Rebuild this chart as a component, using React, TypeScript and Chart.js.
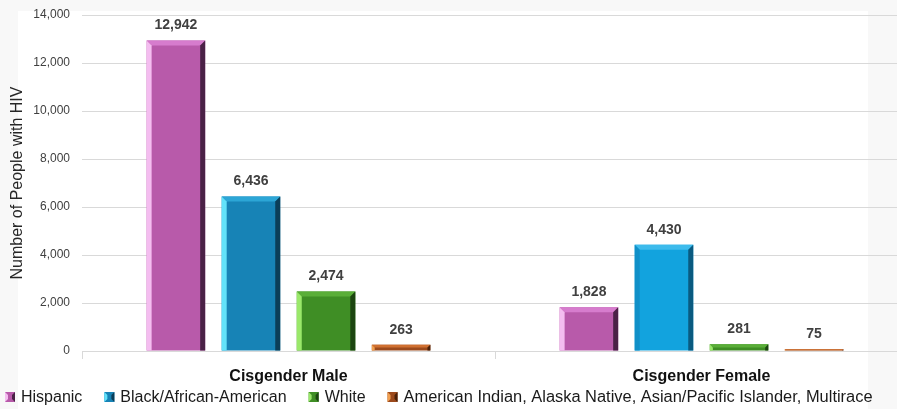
import React, { useEffect, useRef } from "react";
import { Chart, registerables } from "chart.js";

Chart.register(...registerables);

const categories = ["Cisgender Male", "Cisgender Female"];
const seriesNames = [
  "Hispanic",
  "Black/African-American",
  "White",
  "American Indian, Alaska Native, Asian/Pacific Islander, Multirace",
];
const hispanic = [12942, 1828];
const black = [6436, 4430];
const white = [2474, 281];
const aianMulti = [263, 75];
const yTicks = [0, 2000, 4000, 6000, 8000, 10000, 12000, 14000];
const yTitle = "Number of People with HIV";

// style: [main, leftLight, top, rightDark] per series (per category where it differs)
const styles = [
  [["#B85AAA", "#F4BDF0", "#D67CCD", "#4A2146"], ["#B85AAA", "#F4BDF0", "#D67CCD", "#4A2146"]],
  [["#1783B6", "#62E2FA", "#2CA6D6", "#0B3E58"], ["#12A3DE", "#1090C8", "#3DBBEC", "#0A5A80"]],
  [["#3F8E25", "#9AE86A", "#5AAE38", "#1C4510"], ["#3F8E25", "#9AE86A", "#5AAE38", "#1C4510"]],
  [["#9C4A1C", "#F2A050", "#D07030", "#4A2008"], ["#A04A18", "#F2A050", "#D07030", "#4A2008"]],
];

const seriesData = [hispanic, black, white, aianMulti];

const bevelPlugin = {
  id: "bevel",
  afterDatasetsDraw(chart: any) {
    const ctx = chart.ctx;
    ctx.save();
    chart.data.datasets.forEach((ds: any, di: number) => {
      const meta = chart.getDatasetMeta(di);
      meta.data.forEach((bar: any, i: number) => {
        const { x, y, base, width } = bar.getProps(["x", "y", "base", "width"], true);
        const L = x - width / 2;
        const R = x + width / 2;
        const T = Math.min(y, base);
        const B = Math.max(y, base);
        const h = B - T;
        const s = Math.max(1, Math.min(5, h / 2, width / 4));
        const st = styles[di][i];
        ctx.fillStyle = st[2];
        ctx.beginPath();
        ctx.moveTo(L, T);
        ctx.lineTo(R, T);
        ctx.lineTo(R - s, T + s);
        ctx.lineTo(L + s, T + s);
        ctx.closePath();
        ctx.fill();
        ctx.fillStyle = st[1];
        ctx.beginPath();
        ctx.moveTo(L, T);
        ctx.lineTo(L + s, T + s);
        ctx.lineTo(L + s, B);
        ctx.lineTo(L, B);
        ctx.closePath();
        ctx.fill();
        ctx.fillStyle = st[3];
        ctx.beginPath();
        ctx.moveTo(R, T);
        ctx.lineTo(R, B);
        ctx.lineTo(R - s, B);
        ctx.lineTo(R - s, T + s);
        ctx.closePath();
        ctx.fill();
      });
    });
    ctx.font = "bold 14px 'Liberation Sans', Arial, sans-serif";
    ctx.fillStyle = "#404040";
    ctx.textAlign = "center";
    ctx.textBaseline = "middle";
    chart.data.datasets.forEach((ds: any, di: number) => {
      const meta = chart.getDatasetMeta(di);
      meta.data.forEach((bar: any, i: number) => {
        const v = ds.data[i];
        ctx.fillText(Number(v).toLocaleString("en-US"), bar.x, bar.y - 15);
      });
    });
    ctx.restore();
  },
};

const bgPlugin = {
  id: "bgPanel",
  beforeDraw(chart: any) {
    const ctx = chart.ctx;
    ctx.save();
    ctx.fillStyle = "#f8f8f8";
    ctx.fillRect(0, 0, chart.width, chart.height);
    ctx.fillStyle = "#ffffff";
    ctx.fillRect(18, 11, 850, chart.height - 11);
    ctx.restore();
  },
};

const legendPlugin = {
  id: "customLegend",
  afterDraw(chart: any) {
    const ctx = chart.ctx;
    ctx.save();
    ctx.font = "16px 'Liberation Sans', Arial, sans-serif";
    ctx.textBaseline = "middle";
    ctx.textAlign = "left";
    const cy = 397;
    let x = 5;
    chart.data.datasets.forEach((ds: any, di: number) => {
      const st = styles[di][0];
      const b = 10;
      const top = cy - b / 2;
      ctx.fillStyle = st[0];
      ctx.fillRect(x, top, b, b);
      ctx.fillStyle = st[1];
      ctx.beginPath();
      ctx.moveTo(x, top);
      ctx.lineTo(x + 3, top + 3);
      ctx.lineTo(x + 3, top + b - 3);
      ctx.lineTo(x, top + b);
      ctx.closePath();
      ctx.fill();
      ctx.fillStyle = st[3];
      ctx.beginPath();
      ctx.moveTo(x + b, top);
      ctx.lineTo(x + b - 3, top + 3);
      ctx.lineTo(x + b - 3, top + b - 3);
      ctx.lineTo(x + b, top + b);
      ctx.closePath();
      ctx.fill();
      ctx.fillStyle = "#1a1a1a";
      const tw = ctx.measureText(ds.label).width;
      ctx.save();
      const sx = di === 3 ? 469 / tw : 1;
      ctx.translate(x + b + 6, cy + 1);
      ctx.scale(sx, 1);
      ctx.fillText(ds.label, 0, 0);
      ctx.restore();
      x += b + 6 + tw * sx + 22;
    });
    ctx.restore();
  },
};

export default function App() {
  const ref = useRef<HTMLCanvasElement>(null);
  useEffect(() => {
    if (!ref.current) return;
    const chart = new Chart(ref.current, {
      type: "bar",
      data: {
        labels: categories,
        datasets: seriesData.map((d, di) => ({
          label: seriesNames[di],
          data: d,
          backgroundColor: styles[di].map((s) => s[0]),
          borderWidth: 0,
          categoryPercentage: 0.727,
          barPercentage: 0.78,
        })),
      },
      options: {
        animation: false,
        responsive: false,
        layout: { padding: { top: 15, right: 2, bottom: 22, left: 0 } },
        plugins: {
          legend: { display: false },
          tooltip: { enabled: false },
        },
        scales: {
          x: {
            grid: {
              display: true,
              drawOnChartArea: false,
              drawTicks: true,
              tickLength: 8,
              color: "#d9d9d9",
              offset: true,
            },
            border: { display: true, color: "#d9d9d9" },
            ticks: {
              padding: 8,
              color: "#111111",
              font: { family: "'Liberation Sans', Arial, sans-serif", size: 16, weight: "bold" },
            },
            afterFit: (scale: any) => {
              scale.height = 36;
            },
          },
          y: {
            min: 0,
            max: 14000,
            afterBuildTicks: (scale: any) => {
              scale.ticks = yTicks.map((v) => ({ value: v }));
            },
            grid: { color: "#d9d9d9", drawTicks: false },
            border: { display: false },
            ticks: {
              padding: 12,
              color: "#404040",
              font: { family: "'Liberation Sans', Arial, sans-serif", size: 12 },
              callback: (v: any) => Number(v).toLocaleString("en-US"),
            },
            title: {
              display: true,
              text: yTitle,
              color: "#262626",
              padding: { top: 8, bottom: 0 },
              font: { family: "'Liberation Sans', Arial, sans-serif", size: 16 },
            },
            afterFit: (scale: any) => {
              scale.width = 82;
              scale.paddingTop = 0;
              scale.paddingBottom = 0;
            },
          },
        },
      },
      plugins: [bgPlugin, bevelPlugin, legendPlugin],
    });
    return () => chart.destroy();
  }, []);
  return (
    <div style={{ position: "fixed", left: 0, top: 0, width: 897, height: 409, overflow: "hidden", background: "#fff" }}>
      <canvas ref={ref} width={910} height={409} style={{ display: "block", width: 910, height: 409 }} />
    </div>
  );
}
